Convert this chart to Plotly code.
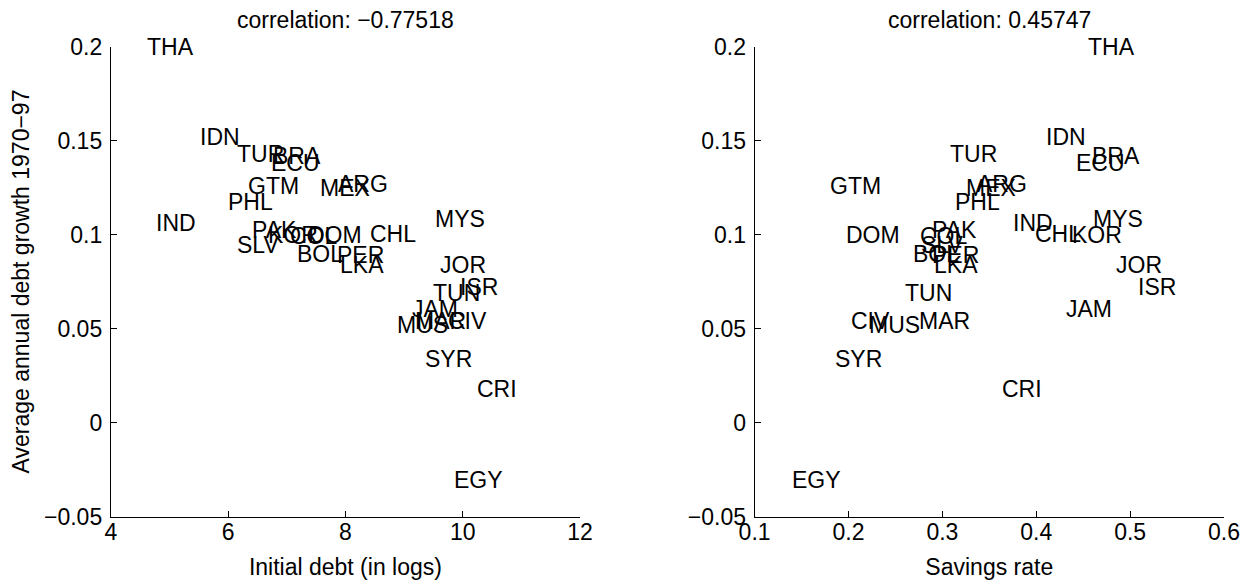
import plotly.graph_objects as go

countries = ["THA", "IDN", "TUR", "BRA", "ECU", "GTM", "MEX", "ARG", "PHL", "IND",
             "PAK", "SLV", "KOR", "COL", "DOM", "CHL", "BOL", "PER", "LKA", "MYS",
             "JOR", "ISR", "TUN", "JAM", "MUS", "MAR", "CIV", "SYR", "CRI", "EGY"]

debt_growth = [0.200, 0.152, 0.143, 0.1415, 0.138, 0.126, 0.125, 0.127, 0.1173, 0.106,
               0.1025, 0.0945, 0.100, 0.099, 0.0995, 0.1005, 0.0895, 0.089, 0.0837, 0.1085,
               0.0836, 0.072, 0.069, 0.0605, 0.052, 0.054, 0.054, 0.034, 0.018, -0.0305]

initial_debt = [4.61, 5.52, 6.15, 6.77, 6.73, 6.34, 7.57, 7.88, 5.99, 4.77,
                6.40, 6.15, 6.68, 7.05, 7.37, 8.42, 7.17, 7.85, 7.90, 9.53,
                9.61, 9.95, 9.49, 9.13, 8.875, 9.19, 9.75, 9.35, 10.24, 9.85]

savings_rate = [0.455, 0.410, 0.308, 0.459, 0.442, 0.180, 0.325, 0.3365, 0.3134, 0.375,
                0.2886, 0.277, 0.4377, 0.276, 0.197, 0.3986, 0.2687, 0.2886, 0.291, 0.460,
                0.485, 0.5087, 0.260, 0.432, 0.222, 0.2753, 0.2025, 0.186, 0.3635, 0.140]

titles = ["correlation: \u22120.77518", "correlation: 0.45747"]
x_titles = ["Initial debt (in logs)", "Savings rate"]
y_title = "Average annual debt growth 1970\u221297"
y_ticks = [-0.05, 0, 0.05, 0.1, 0.15, 0.2]
y_ticklabels = ["\u22120.05", "0", "0.05", "0.1", "0.15", "0.2"]
x1_ticks = [4, 6, 8, 10, 12]
x2_ticks = [0.1, 0.2, 0.3, 0.4, 0.5, 0.6]
x2_ticklabels = ["0.1", "0.2", "0.3", "0.4", "0.5", "0.6"]

FONT = "Liberation Sans, Arial, Helvetica, sans-serif"
FS = 23

# page body has an 8px margin; size the figure to fill the rest of the window
OFF = 8
W, H = 1253 - OFF, 584 - OFF


def px_x(p):
    return (p - OFF) / W


def px_y(p):
    return 1 - (p - OFF) / H


left1, right1 = px_x(110.8), px_x(580.0)
left2, right2 = px_x(754.6), px_x(1224.0)
top, bot = px_y(46.5), px_y(516.5)

fig = go.Figure()
# invisible anchor traces so both subplots exist
fig.add_trace(go.Scatter(x=initial_debt, y=debt_growth, mode="markers",
                         marker=dict(size=1, opacity=0), xaxis="x", yaxis="y",
                         hoverinfo="skip", showlegend=False))
fig.add_trace(go.Scatter(x=savings_rate, y=debt_growth, mode="markers",
                         marker=dict(size=1, opacity=0), xaxis="x2", yaxis="y2",
                         hoverinfo="skip", showlegend=False))

annotations = []
for name, xv, yv in zip(countries, initial_debt, debt_growth):
    annotations.append(dict(text=name, x=xv, y=yv, xref="x", yref="y",
                            xanchor="left", yanchor="middle", showarrow=False,
                            xshift=-2, font=dict(family=FONT, size=FS, color="black")))
for name, xv, yv in zip(countries, savings_rate, debt_growth):
    annotations.append(dict(text=name, x=xv, y=yv, xref="x2", yref="y2",
                            xanchor="left", yanchor="middle", showarrow=False,
                            xshift=-2, font=dict(family=FONT, size=FS, color="black")))
for t, (a, b) in zip(titles, [(left1, right1), (left2, right2)]):
    annotations.append(dict(text=t, x=(a + b) / 2, y=px_y(20), xref="paper", yref="paper",
                            xanchor="center", yanchor="middle", showarrow=False,
                            font=dict(family=FONT, size=FS, color="black")))

axis_common = dict(showline=True, linecolor="black", linewidth=1, ticks="inside",
                   ticklen=6, tickcolor="black", tickwidth=1, showgrid=False,
                   zeroline=False, mirror=False,
                   tickfont=dict(family=FONT, size=FS, color="black"))

fig.update_layout(
    width=W, height=H,
    margin=dict(l=0, r=0, t=0, b=0, autoexpand=False),
    paper_bgcolor="white", plot_bgcolor="white",
    font=dict(family=FONT, size=FS, color="black"),
    xaxis=dict(domain=[left1, right1], range=[4, 12], tickvals=x1_ticks,
               anchor="y", ticklabelstandoff=-5,
               title=dict(text=x_titles[0], standoff=14,
                          font=dict(family=FONT, size=FS)),
               **axis_common),
    yaxis=dict(domain=[bot, top], range=[-0.05, 0.2], tickvals=y_ticks,
               ticktext=y_ticklabels, anchor="x", ticklabelstandoff=3,
               title=dict(text=y_title, standoff=8, font=dict(family=FONT, size=FS)),
               **axis_common),
    xaxis2=dict(domain=[left2, right2], range=[0.1, 0.6], tickvals=x2_ticks,
                ticktext=x2_ticklabels, anchor="y2", ticklabelstandoff=-5,
                title=dict(text=x_titles[1], standoff=14, font=dict(family=FONT, size=FS)),
                **axis_common),
    yaxis2=dict(domain=[bot, top], range=[-0.05, 0.2], tickvals=y_ticks,
                ticktext=y_ticklabels, anchor="x2", ticklabelstandoff=3,
                **axis_common),
    annotations=annotations,
)

fig.write_html("out.html")
